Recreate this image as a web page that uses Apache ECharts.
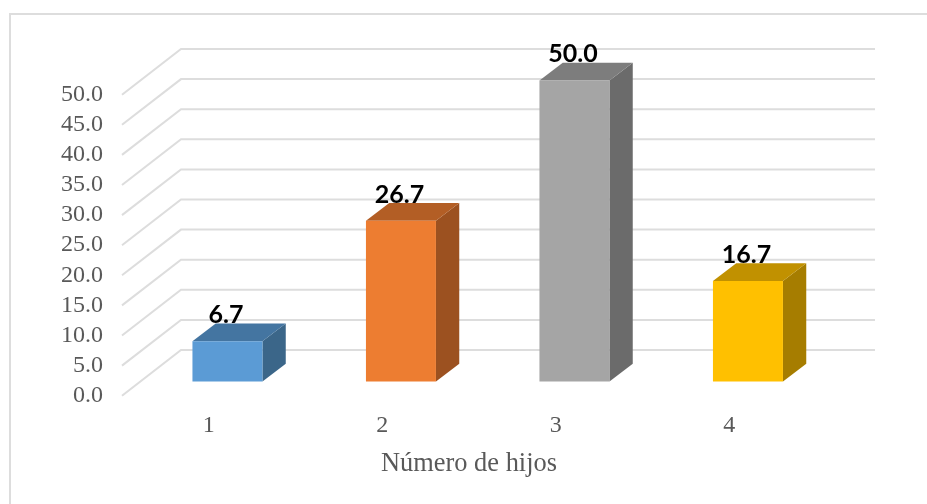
<!DOCTYPE html>
<html>
<head>
<meta charset="utf-8">
<style>html,body{margin:0;padding:0;background:#fff}#c{width:927px;height:504px}</style>
<script src="https://cdn.jsdelivr.net/npm/echarts@6/dist/echarts.min.js"></script>
</head>
<body>
<div id="c"></div>
<script>
var categories = ['1', '2', '3', '4'];
var values = [6.7, 26.7, 50.0, 16.7];
var labels = ['6.7', '26.7', '50.0', '16.7'];
var gridValues = [0, 5, 10, 15, 20, 25, 30, 35, 40, 45, 50];
var axisName = 'Número de hijos';
var frontColors = ['#5B9BD5', '#ED7D31', '#A5A5A5', '#FFC000'];
var topColors = ['#4475A1', '#B35E25', '#7D7D7D', '#C19100'];
var sideColors = ['#3B6689', '#9C5120', '#6B6B6B', '#A67D00'];

var WALL_DX = 59, WALL_DY = -45.7, WALL_W = 694;
var BAR_W = 70, BAR_OX = 18.7, BAR_OY = -14.2, DEPTH_X = 23.3, DEPTH_Y = -17.7;

function renderGrid(params, api) {
  var p = api.coord([0, api.value(0)]);
  var x0 = params.coordSys.x;
  return {
    type: 'polyline',
    shape: { points: [[x0, p[1]], [x0 + WALL_DX, p[1] + WALL_DY], [x0 + WALL_DX + WALL_W, p[1] + WALL_DY]] },
    style: { fill: null, stroke: '#DDDDDD', lineWidth: 2 },
    silent: true
  };
}

function renderBar(params, api) {
  var i = params.dataIndex;
  var top = api.coord([i, api.value(1)]);
  var bot = api.coord([i, 0]);
  var xl = top[0] - BAR_W / 2 + BAR_OX, xr = xl + BAR_W;
  var yt = top[1] + BAR_OY, yb = bot[1] + BAR_OY;
  return {
    type: 'group',
    children: [
      { type: 'polygon', shape: { points: [[xr, yt], [xr + DEPTH_X, yt + DEPTH_Y], [xr + DEPTH_X, yb + DEPTH_Y], [xr, yb]] }, style: { fill: sideColors[i] } },
      { type: 'polygon', shape: { points: [[xl, yt], [xr, yt], [xr + DEPTH_X, yt + DEPTH_Y], [xl + DEPTH_X, yt + DEPTH_Y]] }, style: { fill: topColors[i] } },
      { type: 'rect', shape: { x: xl, y: yt, width: BAR_W, height: yb - yt }, style: { fill: frontColors[i] } },
      { type: 'text', style: { x: (xl + xr) / 2 - 1.5, y: yt + DEPTH_Y + 4, text: labels[i], fill: '#000', font: 'bold 25px Lato, "Open Sans", sans-serif', textAlign: 'center', textVerticalAlign: 'bottom' } }
    ]
  };
}

var chart = echarts.init(document.getElementById('c'), null, { renderer: 'canvas' });
chart.setOption({
  animation: false,
  backgroundColor: '#fff',
  graphic: [
    { type: 'polyline', shape: { points: [[10, 504], [10, 14], [927, 14]] }, style: { fill: null, stroke: '#DDDDDD', lineWidth: 2 }, silent: true }
  ],
  grid: { left: 122, top: 94.7, width: 694, height: 301 },
  xAxis: {
    type: 'category',
    data: categories,
    axisLine: { show: false },
    axisTick: { show: false },
    axisLabel: { color: '#595959', fontFamily: '"Liberation Serif", serif', fontSize: 24, margin: 18 },
    name: axisName,
    nameLocation: 'middle',
    nameGap: 55,
    nameTextStyle: { color: '#595959', fontFamily: '"Liberation Serif", serif', fontSize: 26.4 }
  },
  yAxis: {
    type: 'value',
    min: 0,
    max: 50,
    interval: 5,
    axisLine: { show: false },
    axisTick: { show: false },
    splitLine: { show: false },
    axisLabel: { color: '#595959', fontFamily: '"Liberation Serif", serif', fontSize: 24, margin: 19, padding: [5, 0, 0, 0], formatter: function (v) { return v.toFixed(1); } }
  },
  series: [
    { type: 'custom', coordinateSystem: 'cartesian2d', renderItem: renderGrid, encode: { y: 0 }, data: gridValues.map(function (v) { return [v]; }), silent: true, z: 1 },
    { type: 'custom', coordinateSystem: 'cartesian2d', renderItem: renderBar, encode: { x: 0, y: 1 }, data: values.map(function (v, i) { return [i, v]; }), silent: true, z: 2 }
  ]
});
</script>
</body>
</html>
